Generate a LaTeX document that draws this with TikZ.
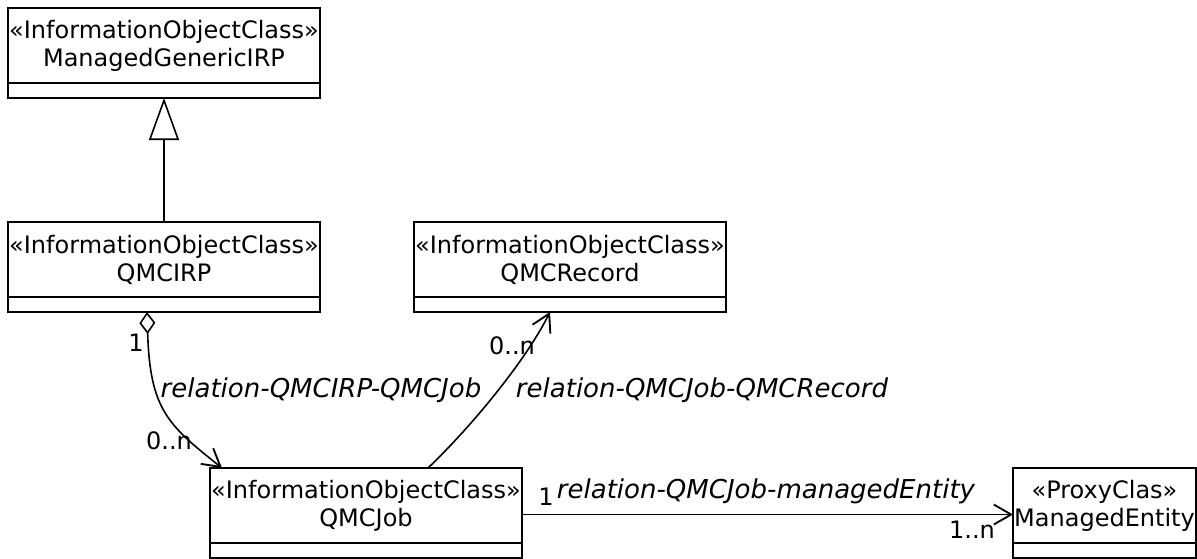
\documentclass[tikz,border=0pt]{standalone}
\usepackage{fontspec}
\setmainfont{DejaVu Sans}
\usetikzlibrary{positioning, calc, arrows.meta}

\begin{document}
\begin{tikzpicture}[x=0.75pt, y=-0.75pt,
	>={Straight Barb[length=13pt, width=15pt, line width=1.4pt]},
	cls/.style={draw, line width=1.8pt, outer sep=0pt, inner sep=0pt, minimum width=234pt, minimum height=56.25pt, align=center, font=\fontsize{18}{21}\selectfont},
	ops/.style={draw, line width=1.8pt, outer sep=0pt, inner sep=0pt, minimum width=234pt, minimum height=11.25pt},
	rel/.style={line width=1.2pt},
	lbl/.style={inner sep=0pt, font=\fontsize{18}{21}\selectfont},
	rlbl/.style={inner sep=0pt, font=\fontsize{19.5}{21}\selectfont\itshape}]
\useasboundingbox (0, 0) rectangle (1197, 558);
% classes
\node[cls] (mgirp) at (164, 45.5) {«InformationObjectClass»\\ManagedGenericIRP};
\node[ops, below=0pt of mgirp] (mgirp ops) {};
\node[cls] (qmcirp) at (164, 259.5) {«InformationObjectClass»\\QMCIRP};
\node[ops, below=0pt of qmcirp] (qmcirp ops) {};
\node[cls] (qmcrecord) at (570, 259.5) {«InformationObjectClass»\\QMCRecord};
\node[ops, below=0pt of qmcrecord] (qmcrecord ops) {};
\node[cls] (qmcjob) at (366, 505.5) {«InformationObjectClass»\\QMCJob};
\node[ops, below=0pt of qmcjob] (qmcjob ops) {};
\node[cls, minimum width=137.25pt] (entity) at (1104.5, 505.5) {«ProxyClas»\\ManagedEntity};
\node[ops, minimum width=137.25pt, below=0pt of entity] (entity ops) {};
% relations
\draw[rel, -{Triangle[open, length=31.5pt, width=22.5pt]}] (qmcirp) -- (mgirp ops);
\draw[rel, {Diamond[open, length=16.5pt, width=12pt]}->] ($(qmcirp ops.south)+(-17, 0)$) .. controls (150, 410) and (168, 425) .. ($(qmcjob.north west)+(12, 0)$);
\draw[rel, ->] ($(qmcjob.north)+(62, 0)$) .. controls (470, 428) and (525, 362) .. ($(qmcrecord ops.south)+(-20, 0)$);
\draw[rel, ->] ($(qmcjob.east)+(0, 9)$) -- ($(entity.west)+(0, 9)$);
% labels
\node[lbl] (agg src) at (136, 343) {1};
\node[lbl] (agg dst) at (169, 441) {0..n};
\node[rlbl] (agg name) at (321, 390) {relation-QMCIRP-QMCJob};
\node[lbl] (rec dst) at (512, 346) {0..n};
\node[rlbl] (rec name) at (702, 390) {relation-QMCJob-QMCRecord};
\node[lbl] (ent src) at (546, 497) {1};
\node[rlbl] (ent name) at (766, 491) {relation-QMCJob-managedEntity};
\node[lbl] (ent dst) at (972, 530) {1..n};
\end{tikzpicture}
\end{document}
